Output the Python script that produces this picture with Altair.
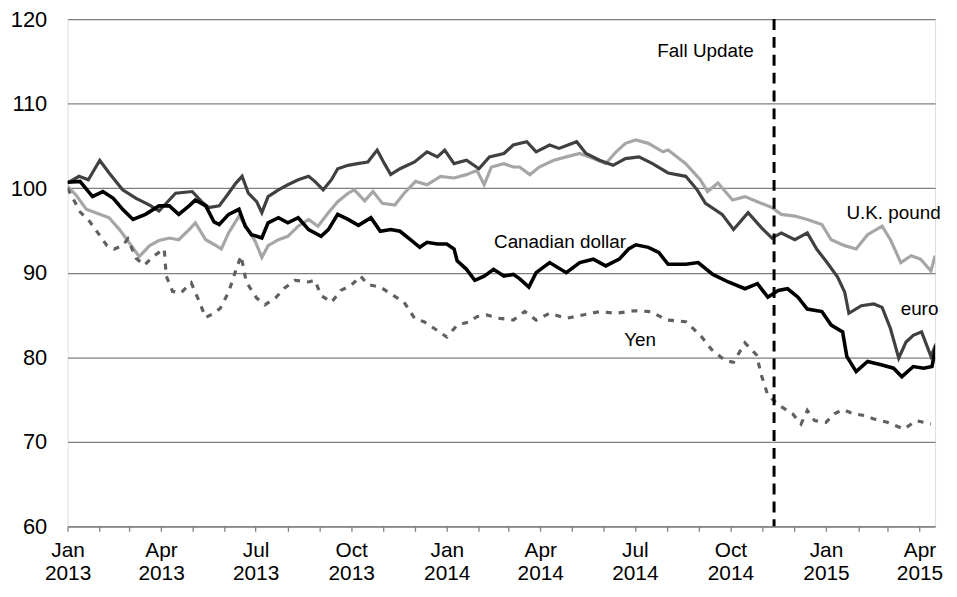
import altair as alt
import pandas as pd

START = pd.Timestamp("2013-01-01")

# Days since 2013-01-01 and index values
cad_days = [0, 12, 24, 34, 44, 53, 63, 75, 88, 98, 107, 117, 123, 133, 141, 146, 155, 165, 171, 177,
            187, 193, 203, 212, 222, 232, 244, 251, 260, 270, 280, 292, 301, 311, 320, 330, 339, 346,
            356, 365, 372, 375, 384, 392, 401, 410, 420, 429, 435, 444, 451, 464, 480, 493, 506, 518,
            531, 540, 547, 559, 569, 578, 595, 607, 621, 636, 652, 664, 674, 684, 693, 703, 712, 726,
            735, 746, 750, 759, 770, 783, 795, 803, 814, 824, 832, 836]
cad_vals = [100.7, 100.8, 99.0, 99.6, 98.8, 97.5, 96.3, 96.9, 97.9, 97.9, 96.9, 97.9, 98.6, 97.9, 96.0,
            95.7, 96.9, 97.5, 95.5, 94.5, 94.1, 95.9, 96.5, 95.9, 96.5, 95.1, 94.3, 95.1, 96.9, 96.3,
            95.6, 96.5, 94.9, 95.1, 94.9, 93.9, 93.0, 93.6, 93.4, 93.4, 92.8, 91.4, 90.4, 89.1, 89.6,
            90.4, 89.6, 89.8, 89.3, 88.3, 90.0, 91.2, 90.0, 91.2, 91.6, 90.8, 91.6, 92.8, 93.3, 93.0,
            92.4, 91.0, 91.0, 91.2, 89.8, 88.9, 88.1, 88.7, 87.1, 87.9, 88.1, 87.1, 85.7, 85.4, 83.8,
            83.0, 80.1, 78.3, 79.5, 79.1, 78.7, 77.7, 78.9, 78.7, 78.9, 81.4]

euro_days = [0, 11, 20, 31, 40, 53, 66, 79, 88, 104, 120, 129, 136, 146, 155, 162, 168, 174, 182, 187,
             193, 203, 212, 222, 232, 238, 246, 254, 260, 270, 279, 289, 298, 305, 311, 320, 334, 346,
             356, 363, 372, 384, 396, 406, 420, 429, 442, 451, 464, 473, 490, 499, 512, 525, 537, 550,
             563, 578, 595, 606, 614, 630, 641, 655, 668, 678, 687, 700, 712, 721, 731, 741, 748, 752,
             764, 776, 784, 792, 800, 807, 814, 822, 831, 836]
euro_vals = [100.6, 101.4, 101.0, 103.3, 101.8, 99.8, 98.8, 98.0, 97.3, 99.4, 99.6, 98.4, 97.7, 97.9,
             99.4, 100.6, 101.4, 99.4, 98.4, 97.1, 99.0, 99.8, 100.4, 101.0, 101.4, 100.8, 99.8, 101.0,
             102.3, 102.7, 102.9, 103.1, 104.5, 102.9, 101.6, 102.3, 103.1, 104.3, 103.7, 104.5, 102.9,
             103.3, 102.3, 103.7, 104.1, 105.1, 105.5, 104.3, 105.1, 104.7, 105.5, 104.1, 103.3, 102.7,
             103.5, 103.7, 102.9, 101.8, 101.4, 99.8, 98.2, 96.9, 95.1, 97.1, 95.3, 94.1, 94.7, 93.9,
             94.7, 92.8, 91.2, 89.5, 87.7, 85.2, 86.1, 86.3, 85.9, 83.4, 79.9, 81.8, 82.6, 83.0, 80.1,
             81.6]

pound_days = [0, 8, 18, 31, 40, 50, 59, 69, 79, 88, 98, 107, 117, 123, 133, 143, 148, 155, 165, 171,
              181, 187, 193, 203, 212, 222, 232, 241, 251, 260, 270, 276, 286, 294, 303, 315, 324, 335,
              346, 359, 372, 384, 394, 401, 408, 420, 429, 435, 445, 454, 468, 480, 493, 506, 518, 528,
              537, 547, 559, 573, 578, 595, 609, 616, 626, 640, 652, 664, 678, 687, 700, 712, 726, 735,
              748, 759, 770, 784, 792, 802, 812, 821, 831, 835]
pound_vals = [100.2, 99.2, 97.5, 96.9, 96.5, 95.1, 93.6, 91.9, 93.2, 93.8, 94.1, 93.9, 95.1, 95.9, 93.9,
              93.2, 92.8, 94.7, 96.7, 95.7, 93.6, 91.8, 93.2, 93.9, 94.3, 95.5, 96.3, 95.5, 97.1, 98.4,
              99.4, 99.8, 98.5, 99.6, 98.2, 98.0, 99.4, 100.8, 100.4, 101.4, 101.2, 101.6, 102.1, 100.4,
              102.5, 102.9, 102.5, 102.5, 101.6, 102.5, 103.3, 103.7, 104.1, 103.5, 102.9, 104.3, 105.3,
              105.7, 105.3, 104.3, 104.5, 102.9, 101.0, 99.6, 100.6, 98.6, 99.0, 98.4, 97.7, 96.9, 96.7,
              96.3, 95.7, 93.9, 93.2, 92.8, 94.5, 95.5, 93.9, 91.2, 92.0, 91.6, 90.2, 92.0]

yen_days = [0, 12, 21, 31, 38, 45, 53, 58, 66, 74, 82, 93, 95, 101, 109, 119, 126, 133, 141, 147, 155,
            162, 167, 172, 182, 190, 200, 209, 219, 232, 238, 244, 254, 263, 273, 282, 289, 301, 311, 324,
            334, 343, 353, 365, 375, 387, 394, 403, 416, 429, 440, 451, 464, 480, 496, 512, 528, 545, 561,
            577, 595, 609, 620, 633, 641, 652, 663, 668, 674, 685, 698, 706, 712, 719, 730, 738, 746, 757,
            767, 776, 789, 805, 817, 831]
yen_vals = [100.0, 97.2, 96.1, 94.4, 93.2, 92.8, 93.2, 94.0, 91.7, 90.9, 91.9, 92.8, 89.6, 87.8, 87.6,
            88.8, 86.8, 84.7, 85.2, 85.8, 87.7, 90.3, 92.0, 88.9, 87.0, 86.2, 87.0, 88.2, 89.1, 88.9, 89.1,
            87.3, 86.5, 87.9, 88.5, 89.6, 88.6, 88.3, 87.5, 86.5, 84.6, 84.2, 83.4, 82.4, 83.8, 84.2, 84.8,
            85.0, 84.6, 84.4, 85.4, 84.4, 85.2, 84.6, 85.0, 85.4, 85.2, 85.5, 85.4, 84.4, 84.2, 82.6, 80.9,
            79.6, 79.4, 81.7, 80.3, 77.8, 75.5, 74.3, 73.3, 72.1, 73.7, 72.5, 72.3, 73.3, 73.8, 73.3, 73.1,
            72.7, 72.3, 71.5, 72.5, 72.1]

label_texts = ["Fall Update", "Canadian dollar", "U.K. pound", "euro", "Yen"]
label_days = [614, 474, 795, 820, 551]
label_vals = [116.2, 93.6, 97.1, 85.7, 82.0]

fall_update_date = "2014-11-12"
y_ticks = [60, 70, 80, 90, 100, 110, 120]


def to_dates(days):
    return [(START + pd.Timedelta(days=int(d))).strftime("%Y-%m-%d") for d in days]


def frame(days, vals):
    return pd.DataFrame({"date": to_dates(days), "value": vals})


def ms(s):
    return int(pd.Timestamp(s, tz="UTC").timestamp() * 1000)


month_ticks = [ms(f"{y}-{m:02d}-01") for y in (2013, 2014, 2015) for m in range(1, 13)
               if (y, m) <= (2015, 4)]

FONT = "Liberation Sans"
x_scale = alt.Scale(type="utc", domain=[ms("2013-01-01"), ms("2015-04-16")])
y_scale = alt.Scale(domain=[60, 120], nice=False, zero=False)

x_axis = alt.Axis(
    values=month_ticks, title=None, grid=False,
    labelExpr="utcmonth(datum.value) % 3 == 0 ? [utcFormat(datum.value, '%b'), utcFormat(datum.value, '%Y')] : ''",
    labelOverlap=False, labelFont=FONT, labelFontSize=21, labelColor="black",
    labelLineHeight=24, labelPadding=8, labelAlign="center", labelBaseline="top",
    tickSize=5, tickColor="#7f7f7f", tickWidth=1.3,
    domainColor="#7f7f7f", domainWidth=1.3, labelBound=False, labelFlush=False,
)
y_axis = alt.Axis(
    values=y_ticks, title=None, grid=True, gridColor="#7f7f7f", gridWidth=1.3,
    domain=False, ticks=False, labelFont=FONT, labelFontSize=22, labelColor="black",
    labelPadding=21,
)


def line(df, color, width, dash=None):
    kw = dict(color=color, strokeWidth=width, clip=True)
    if dash:
        kw["strokeDash"] = dash
    return alt.Chart(df).mark_line(**kw).encode(
        x=alt.X("date:T", scale=x_scale, axis=x_axis),
        y=alt.Y("value:Q", scale=y_scale, axis=y_axis),
    )


pound = line(frame(pound_days, pound_vals), "#a6a6a6", 3.2)
euro = line(frame(euro_days, euro_vals), "#404040", 3.2)
yen = line(frame(yen_days, yen_vals), "#606060", 3.2, [6, 7])
cad = line(frame(cad_days, cad_vals), "#000000", 3.6)

rule = alt.Chart(pd.DataFrame({"date": [fall_update_date]})).mark_rule(
    color="black", strokeWidth=3, strokeDash=[11, 7]
).encode(x=alt.X("date:T", scale=x_scale, axis=x_axis))

labels = alt.Chart(pd.DataFrame({"date": to_dates(label_days), "value": label_vals,
                                 "text": label_texts})).mark_text(
    font=FONT, fontSize=19, color="black", align="center", baseline="middle"
).encode(
    x=alt.X("date:T", scale=x_scale, axis=x_axis),
    y=alt.Y("value:Q", scale=y_scale, axis=y_axis),
    text="text:N",
)

chart = alt.layer(pound, euro, yen, cad, rule, labels).properties(
    width=874, height=511,
    autosize=alt.AutoSizeParams(type="none"),
    padding={"left": 60, "top": 9, "right": 14, "bottom": 61},
).configure_view(stroke=None).configure(background="white")

chart.save("out.html", embed_options={"renderer": "svg", "actions": False})
